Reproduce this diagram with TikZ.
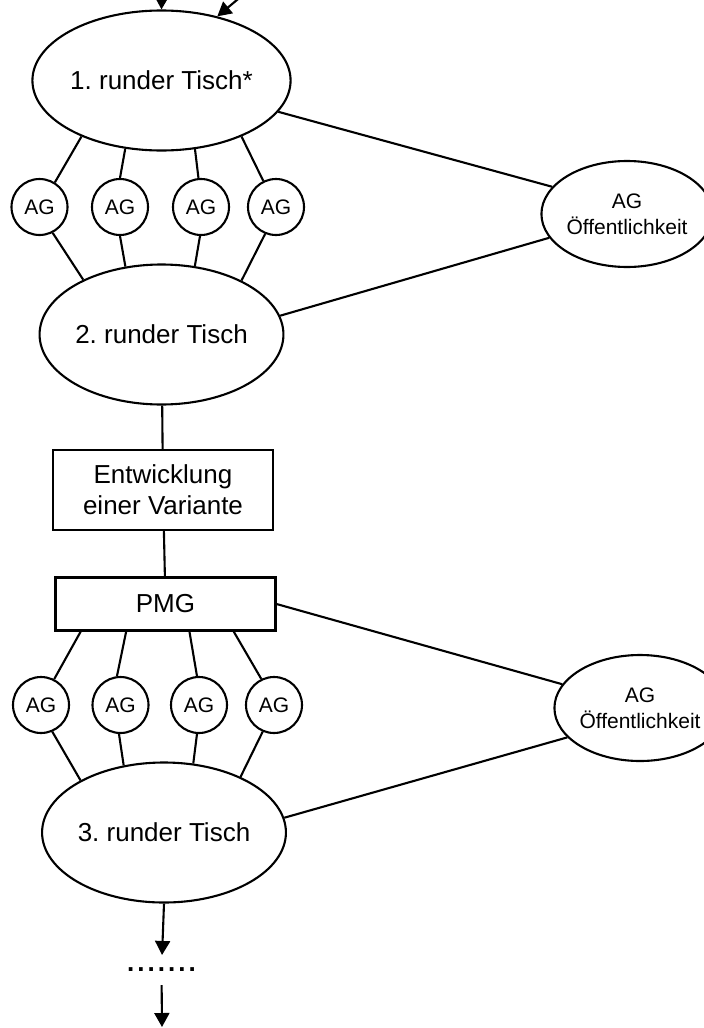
\documentclass[tikz,border=0pt]{standalone}
\usepackage{fontspec}
\setmainfont{Liberation Sans}
\usetikzlibrary{shapes.geometric,arrows.meta,positioning}
\frenchspacing

\begin{document}
\begin{tikzpicture}[x=1pt,y=-1pt,line width=2.1pt,on grid]
 \tikzstyle{tisch}=[draw,ellipse,inner sep=0pt,minimum width=207pt,minimum height=140pt,font=\fontsize{26}{31}\selectfont]
 \tikzstyle{ag}=[draw,circle,inner sep=0pt,minimum size=56pt,font=\fontsize{21}{25}\selectfont]
 \tikzstyle{oeff}=[draw,ellipse,inner sep=0pt,minimum width=155pt,minimum height=106pt,align=center,font=\fontsize{21}{26}\selectfont]
 \tikzstyle{kasten}=[draw,rectangle,inner sep=0pt,minimum width=220pt,align=center,font=\fontsize{26}{31}\selectfont]
 \tikzstyle{pfeil}=[-{Triangle[length=14pt,width=15pt]}]

\useasboundingbox (0,0) rectangle (704,1028);

\node[tisch] (t1) at (161.5,80.5) {1. runder Tisch*};
\node[ag] (a11) at (39.5,207) {AG};
\node[ag] (a12) [right=80.5pt of a11] {AG};
\node[ag] (a13) [right=81pt of a12] {AG};
\node[ag] (a14) [right=75pt of a13] {AG};
\node[oeff] (o1) at (627,214) {AG\\Öffentlichkeit};
\node[tisch] (t2) [below=254pt of t1] {2. runder Tisch};

\node[kasten,minimum height=80pt] (ent) at (163,490) {Entwicklung\\einer Variante};
\node[kasten,minimum height=53pt] (pmg) at (165.5,604) {PMG};

\node[ag] (a21) at (41,705) {AG};
\node[ag] (a22) [right=79.5pt of a21] {AG};
\node[ag] (a23) [right=78.5pt of a22] {AG};
\node[ag] (a24) [right=75pt of a23] {AG};
\node[oeff] (o2) at (640,708) {AG\\Öffentlichkeit};
\node[tisch] (t3) at (164,832.5) {3. runder Tisch};
\node[inner sep=0pt,minimum height=28pt,font=\fontsize{26}{31}\selectfont\bfseries] (punkte) at (161.5,970) {.\kern3pt.\kern3pt.\kern3pt.\kern3pt.\kern3pt.\kern3pt.};

\coordinate (ein1) at (162,-20);
\coordinate (ein2) at (261,-20);
\coordinate (aus) at (162,1027);

% Zugaenge oben
\path[pfeil] (ein1) edge (t1.north);
\path[pfeil] (ein2) edge (t1.49);

% 1. runder Tisch - AGs - 2. runder Tisch
\path (t1.215) edge (a11.58);
\path (t1.242) edge (a12.90);
\path (t1.296) edge (a13.95);
\path (t1.325) edge (a14.116);
\path (a11.297) edge (t2.145);
\path (a12.270) edge (t2.118);
\path (a13.268) edge (t2.64);
\path (a14.248) edge (t2.34);
\path (t1.345) edge (o1.160);
\path (o1.197) edge (t2.9);

\path (t2) edge (ent);
\path (ent) edge (pmg);

% PMG - AGs - 3. runder Tisch
\path (pmg.198) edge (a21.63);
\path (pmg.215) edge (a22.97);
\path (pmg.311) edge (a23.94);
\path (pmg.338) edge (a24.116);
\path (a21.293) edge (t3.148);
\path (a22.267) edge (t3.121);
\path (a23.266) edge (t3.67);
\path (a24.247) edge (t3.36);
\path (pmg.east) edge (o2.163);
\path (o2.202) edge (t3.7);

% weiter
\path[pfeil] (t3.south) edge (punkte);
\path[pfeil] (punkte) edge (aus);

\end{tikzpicture}
\end{document}
